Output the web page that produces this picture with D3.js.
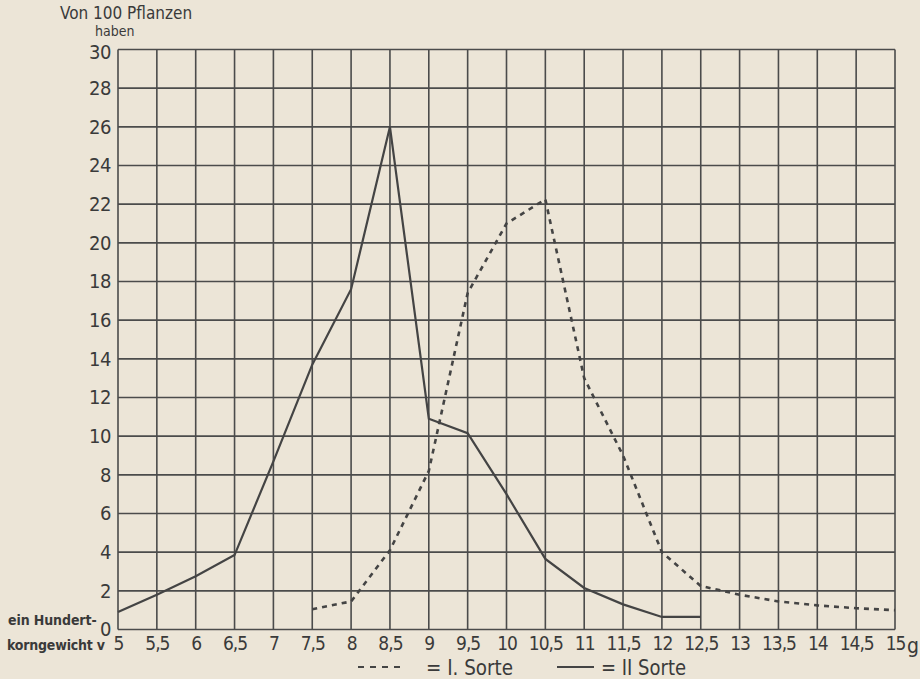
<!DOCTYPE html>
<html><head><meta charset="utf-8">
<script src="https://cdn.jsdelivr.net/npm/d3@7"></script>
<style>
html,body{margin:0;padding:0;background:#ece5d7;}
svg{display:block;}
text{fill:#3a3a3a;font-family:"DejaVu Sans Condensed","DejaVu Sans",sans-serif;}
</style></head>
<body>
<svg id="chart" width="920" height="679"></svg>
<script>
// Kornklassen (Hundertkorngewicht in g)
const xValues = [5,5.5,6,6.5,7,7.5,8,8.5,9,9.5,10,10.5,11,11.5,12,12.5,13,13.5,14,14.5,15];
const xTickLabels = ["5","5,5","6","6,5","7","7,5","8","8,5","9","9,5","10","10,5","11","11,5","12","12,5","13","13,5","14","14,5","15"];
const yTicks = [0,2,4,6,8,10,12,14,16,18,20,22,24,26,28,30];
// I. Sorte (gestrichelt)
const sorte1X = [7.5,8,8.5,9,9.5,10,10.5,11,11.5,12,12.5,13,13.5,14,14.5,15];
const sorte1Y = [1.05,1.45,4.1,8.2,17.4,21.0,22.25,13.0,9.0,4.0,2.25,1.8,1.45,1.25,1.1,1.0];
// II. Sorte (ausgezogen)
const sorte2X = [5,5.5,6,6.5,7,7.5,8,8.5,9,9.5,10,10.5,11,11.5,12,12.5];
const sorte2Y = [0.9,1.8,2.75,3.85,8.7,13.7,17.6,26.0,10.9,10.15,7.0,3.65,2.15,1.3,0.65,0.65];

const svg = d3.select("#chart");
const x = d3.scaleLinear().domain([5,15]).range([118,895]);
const y = d3.scaleLinear().domain([0,30]).range([629.5,49.5]);
const ink = "#4b4b4b";

// grid
const g = svg.append("g");
g.selectAll("line.v").data(xValues).enter().append("line")
  .attr("x1",d=>x(d)).attr("x2",d=>x(d)).attr("y1",y(0)).attr("y2",y(30))
  .attr("stroke",ink).attr("stroke-width",1.6);
g.selectAll("line.h").data(yTicks).enter().append("line")
  .attr("y1",d=>y(d)).attr("y2",d=>y(d)).attr("x1",x(5)).attr("x2",x(15))
  .attr("stroke",ink).attr("stroke-width",1.6);

// axes labels via d3 axes (no lines)
const yAxis = d3.axisLeft(y).tickValues(yTicks).tickSize(0).tickPadding(7).tickFormat(d=>d);
const ya = svg.append("g").attr("transform",`translate(${x(5)},0)`).call(yAxis);
ya.select(".domain").remove();
ya.selectAll("text").attr("font-size",20).style("fill","#3a3a3a")
  .attr("font-family","DejaVu Sans Condensed, sans-serif").attr("letter-spacing",-0.5);
ya.selectAll(".tick").filter(d=>d===30).select("text").attr("dy","0.45em");

const xAxis = d3.axisBottom(x).tickValues(xValues).tickSize(0).tickPadding(7)
  .tickFormat((d,i)=>xTickLabels[i]);
const xa = svg.append("g").attr("transform",`translate(0,${y(0)})`).call(xAxis);
xa.select(".domain").remove();
xa.selectAll("text").attr("font-size",19).style("fill","#3a3a3a")
  .attr("font-family","DejaVu Sans Condensed, sans-serif").attr("letter-spacing",-1);

// lines
const line = d3.line().x(d=>x(d[0])).y(d=>y(d[1]));
svg.append("path").datum(sorte2X.map((v,i)=>[v,sorte2Y[i]]))
  .attr("d",line).attr("fill","none").attr("stroke","#444").attr("stroke-width",2.2)
  .attr("stroke-linejoin","miter");
svg.append("path").datum(sorte1X.map((v,i)=>[v,sorte1Y[i]]))
  .attr("d",line).attr("fill","none").attr("stroke","#444").attr("stroke-width",2.6)
  .attr("stroke-dasharray","5,5");

// titles
svg.append("text").attr("x",60).attr("y",19).attr("font-size",17).text("Von 100 Pflanzen");
svg.append("text").attr("x",95).attr("y",36).attr("font-size",14).text("haben");
svg.append("text").attr("x",8).attr("y",625).attr("font-size",14).attr("font-weight","bold")
  .attr("letter-spacing",-0.1).text("ein Hundert-");
svg.append("text").attr("x",7).attr("y",650).attr("font-size",14).attr("font-weight","bold")
  .attr("letter-spacing",-0.2).text("korngewicht v");
svg.append("text").attr("x",907).attr("y",653).attr("font-size",21).text("g");

// legend
svg.append("line").attr("x1",358).attr("x2",402).attr("y1",667).attr("y2",667)
  .attr("stroke","#444").attr("stroke-width",2.2).attr("stroke-dasharray","6,6");
svg.append("text").attr("x",426).attr("y",675).attr("font-size",21)
  .attr("textLength",87).attr("lengthAdjust","spacingAndGlyphs").text("= I. Sorte");
svg.append("line").attr("x1",557).attr("x2",594).attr("y1",667).attr("y2",667)
  .attr("stroke","#444").attr("stroke-width",2);
svg.append("text").attr("x",601).attr("y",675).attr("font-size",21)
  .attr("textLength",85).attr("lengthAdjust","spacingAndGlyphs").text("= II Sorte");
</script>
</body></html>
